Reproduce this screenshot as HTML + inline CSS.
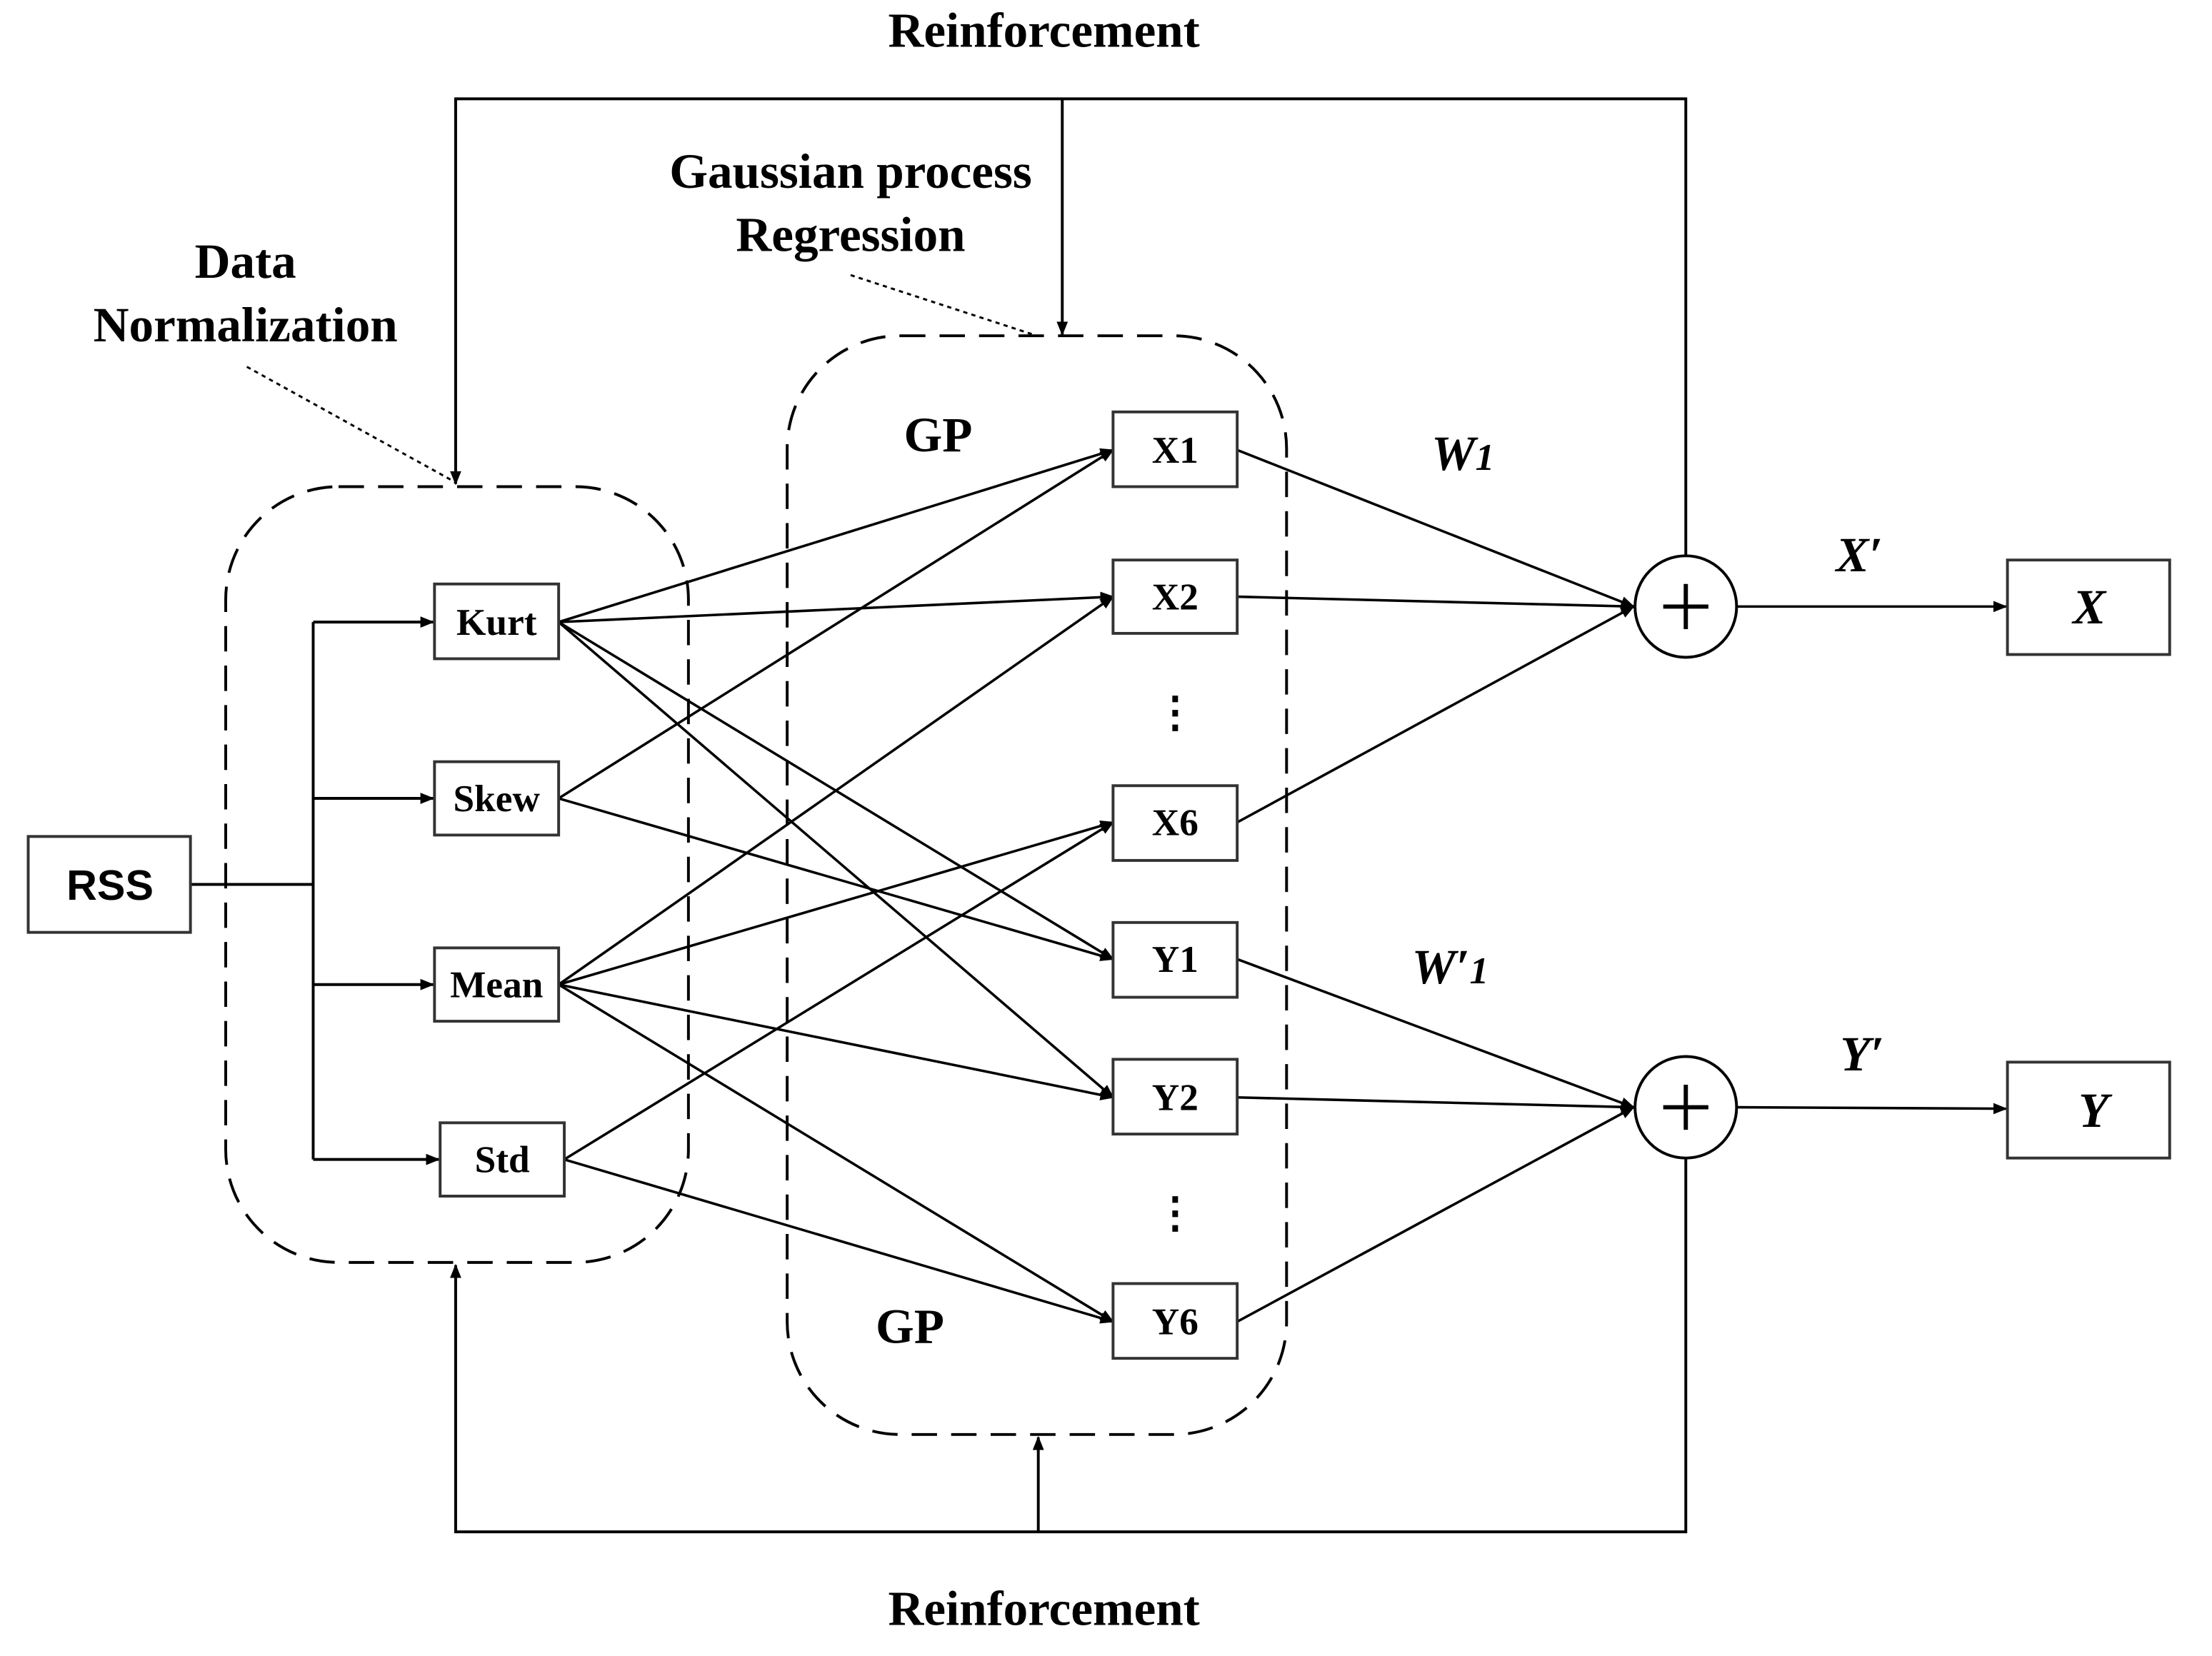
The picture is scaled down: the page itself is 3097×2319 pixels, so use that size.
<!DOCTYPE html>
<html><head><meta charset="utf-8"><style>
html,body{margin:0;padding:0;background:#fff;}
svg{display:block;}
text{font-family:"Liberation Serif",serif;font-weight:bold;fill:#000;}
</style></head><body>
<svg width="3097" height="2319" viewBox="0 0 1568 1174" xmlns="http://www.w3.org/2000/svg">
<defs>
<marker id="a" markerWidth="10" markerHeight="8" refX="9" refY="4" orient="auto" markerUnits="userSpaceOnUse"><path d="M0,0 L10,4 L0,8 z" fill="#000"/></marker>
</defs>
<g fill="none" stroke="#000" stroke-width="2">
<rect x="160" y="345" width="328" height="550" rx="80" ry="80" stroke-dasharray="18,10"/>
<rect x="558" y="238" width="354" height="779" rx="80" ry="80" stroke-dasharray="18,10"/>
<polyline points="1195,394 1195,70 323,70 323,343" marker-end="url(#a)"/>
<line x1="753" y1="70" x2="753" y2="237" marker-end="url(#a)"/>
<polyline points="1195,821 1195,1086 323,1086 323,897" marker-end="url(#a)"/>
<line x1="736" y1="1086" x2="736" y2="1019" marker-end="url(#a)"/>
<line x1="175" y1="260" x2="323" y2="342" stroke-dasharray="3,3" stroke-width="1.5"/>
<line x1="603" y1="195" x2="735" y2="238" stroke-dasharray="3,3" stroke-width="1.5"/>
<line x1="135" y1="627" x2="222" y2="627"/>
<line x1="222" y1="441" x2="222" y2="822"/>
<line x1="222" y1="441" x2="307" y2="441" marker-end="url(#a)"/>
<line x1="222" y1="566" x2="307" y2="566" marker-end="url(#a)"/>
<line x1="222" y1="698" x2="307" y2="698" marker-end="url(#a)"/>
<line x1="222" y1="822" x2="311" y2="822" marker-end="url(#a)"/>
<g marker-end="url(#a)" stroke-width="1.8">
<line x1="396" y1="441" x2="789" y2="319"/>
<line x1="396" y1="441" x2="789" y2="423"/>
<line x1="396" y1="441" x2="789" y2="680"/>
<line x1="396" y1="441" x2="789" y2="778"/>
<line x1="396" y1="566" x2="789" y2="319"/>
<line x1="396" y1="566" x2="789" y2="680"/>
<line x1="396" y1="698" x2="789" y2="423"/>
<line x1="396" y1="698" x2="789" y2="583"/>
<line x1="396" y1="698" x2="789" y2="778"/>
<line x1="396" y1="698" x2="789" y2="937"/>
<line x1="400" y1="822" x2="789" y2="583"/>
<line x1="400" y1="822" x2="789" y2="937"/>
<line x1="877" y1="319" x2="1158" y2="430"/>
<line x1="877" y1="423" x2="1158" y2="430"/>
<line x1="877" y1="583" x2="1158" y2="430"/>
<line x1="877" y1="680" x2="1158" y2="785"/>
<line x1="877" y1="778" x2="1158" y2="785"/>
<line x1="877" y1="937" x2="1158" y2="785"/>
<line x1="1231" y1="430" x2="1422" y2="430"/>
<line x1="1231" y1="785" x2="1422" y2="786"/>
</g>
<circle cx="1195" cy="430" r="36" fill="#fff"/>
<circle cx="1195" cy="785" r="36" fill="#fff"/>
<path d="M1179,430 H1211 M1195,414 V446 M1179,785 H1211 M1195,769 V801" stroke-width="3"/>
</g>
<g fill="#fff" stroke="#333" stroke-width="2">
<rect x="20" y="593" width="115" height="68"/>
<rect x="308" y="414" width="88" height="53"/>
<rect x="308" y="540" width="88" height="52"/>
<rect x="308" y="672" width="88" height="52"/>
<rect x="312" y="796" width="88" height="52"/>
<rect x="789" y="292" width="88" height="53"/>
<rect x="789" y="397" width="88" height="52"/>
<rect x="789" y="557" width="88" height="53"/>
<rect x="789" y="654" width="88" height="53"/>
<rect x="789" y="751" width="88" height="53"/>
<rect x="789" y="910" width="88" height="53"/>
<rect x="1423" y="397" width="115" height="67"/>
<rect x="1423" y="753" width="115" height="68"/>
</g>
<g text-anchor="middle" font-size="27">
<text x="78" y="638" style="font-family:'Liberation Sans',sans-serif" font-size="30">RSS</text>
<text x="352" y="450">Kurt</text>
<text x="352" y="575">Skew</text>
<text x="352" y="707">Mean</text>
<text x="356" y="831">Std</text>
<text x="833" y="328">X1</text>
<text x="833" y="432">X2</text>
<text x="833" y="592">X6</text>
<text x="833" y="689">Y1</text>
<text x="833" y="787">Y2</text>
<text x="833" y="946">Y6</text>
<text x="833" y="515" font-size="30">⋮</text>
<text x="833" y="870" font-size="30">⋮</text>
<g font-size="35">
<text x="740" y="33">Reinforcement</text>
<text x="740" y="1152">Reinforcement</text>
<text x="603" y="133">Gaussian process</text>
<text x="603" y="178">Regression</text>
<text x="174" y="197">Data</text>
<text x="174" y="242">Normalization</text>
<text x="665" y="320">GP</text>
<text x="645" y="952">GP</text>
</g>
<g font-size="35" font-style="italic">
<text x="1037" y="333">W<tspan font-size="27">1</tspan></text>
<text x="1028" y="697">W′<tspan font-size="27">1</tspan></text>
<text x="1318" y="405">X′</text>
<text x="1320" y="759">Y′</text>
<text x="1481" y="442">X</text>
<text x="1484" y="799">Y</text>
</g>
</g>
</svg>
</body></html>
